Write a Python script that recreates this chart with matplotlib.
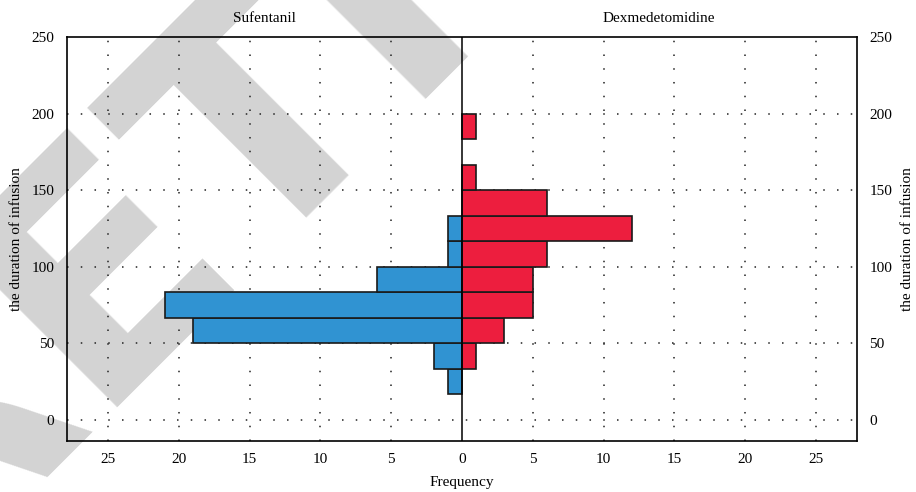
import numpy as np
import matplotlib
matplotlib.use("Agg")
from matplotlib import pyplot as plt
from matplotlib.ticker import FuncFormatter

plt.rcParams['font.family'] = ['Liberation Serif', 'DejaVu Serif']

# histogram bins of the duration of infusion (width 50/3)
bin_width = 50.0 / 3.0
bin_lower = [16.67, 33.33, 50.0, 66.67, 83.33, 100.0, 116.67, 133.33, 150.0, 166.67, 183.33]
sufentanil = [1, 2, 19, 21, 6, 1, 1, 0, 0, 0, 0]
dexmed = [0, 1, 3, 5, 5, 6, 12, 6, 1, 0, 1]

x_ticks = [-25, -20, -15, -10, -5, 0, 5, 10, 15, 20, 25]
y_ticks = [0, 50, 100, 150, 200, 250]

fig = plt.figure(figsize=(9.16, 4.92), dpi=100)
ax = fig.add_axes([0.0731, 0.1037, 0.8625, 0.8211])
ax.set_facecolor('none')

# watermark
fig.text(-0.093, -0.18, "RETRACTED", fontsize=230, fontweight='bold', family='DejaVu Sans',
         color='#d3d3d3', rotation=45, rotation_mode='anchor', ha='left', va='baseline', zorder=-1)

for y, n in zip(bin_lower, sufentanil):
    if n > 0:
        ax.barh(y, -n, height=bin_width, align='edge', color='#3093d2',
                edgecolor='#1a1a1a', linewidth=1.2, zorder=3)
for y, n in zip(bin_lower, dexmed):
    if n > 0:
        ax.barh(y, n, height=bin_width, align='edge', color='#ed1e3e',
                edgecolor='#1a1a1a', linewidth=1.2, zorder=3)

ax.axvline(0, color='black', linewidth=1.1, zorder=4)

ax.set_xlim(-27.9, 27.9)
ax.set_ylim(-13.7, 250)
ax.set_xticks(x_ticks)
ax.set_yticks(y_ticks)
ax.xaxis.set_major_formatter(FuncFormatter(lambda v, p: "%d" % abs(v)))

for v in x_ticks:
    if v != 0:
        ax.axvline(v, color='#222222', linewidth=1.1, linestyle=(0, (1, 8)), zorder=1)
for v in y_ticks[:-1]:
    ax.axhline(v, color='#222222', linewidth=1.1, linestyle=(0, (1, 8)), zorder=1)

ax.tick_params(axis='both', length=0, labelsize=11, pad=9)
ax.tick_params(axis='y', labelleft=True, labelright=True)
for s in ax.spines.values():
    s.set_linewidth(1.2)
    s.set_color('black')

ax.set_xlabel("Frequency", fontsize=11, labelpad=7)
ax.set_ylabel("the duration of infusion", fontsize=11, labelpad=6)
fig.text(0.991, 0.514, "the duration of infusion", fontsize=11, rotation=90,
         ha='center', va='center')

fig.text(264 / 916, 1 - 19 / 492, "Sufentanil", fontsize=11, ha='center', va='center')
fig.text(659 / 916, 1 - 19 / 492, "Dexmedetomidine", fontsize=11, ha='center', va='center')

fig.savefig("out.png", dpi=100)
